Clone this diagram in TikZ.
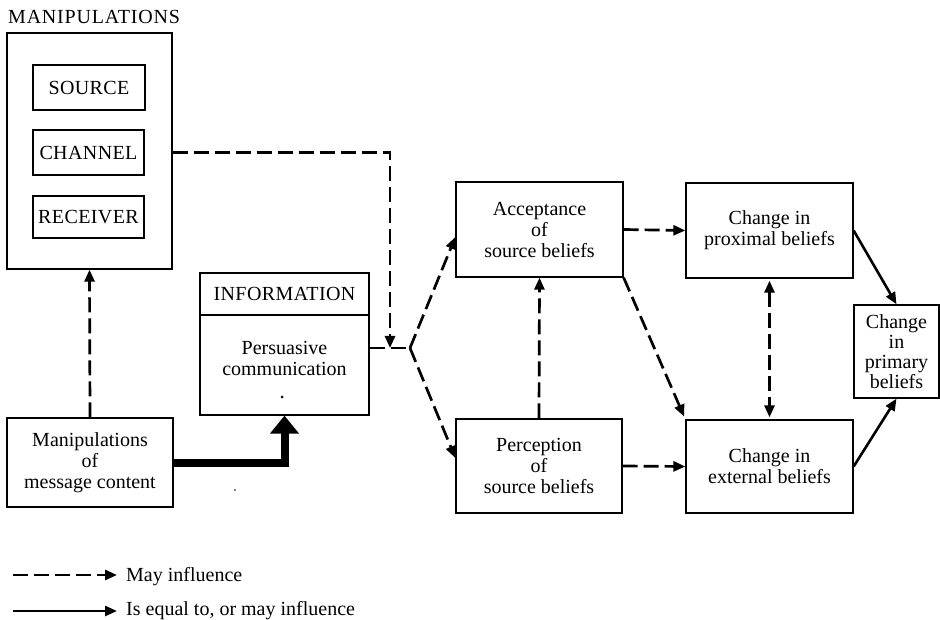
\documentclass[tikz,border=0pt]{standalone}
\usepackage{fontspec}
\setmainfont{Liberation Serif}
\usetikzlibrary{arrows.meta,calc}
\begin{document}
\begin{tikzpicture}[x=1pt,y=-1pt,
  every node/.style={font=\fontsize{20}{21}\selectfont},
  box/.style={draw, line width=1.3pt, inner sep=0pt, align=center},
  caps/.style={font=\fontsize{20}{21}\selectfont\addfontfeatures{LetterSpace=2}},
  dsh/.style={line width=2.7pt, dash pattern=on 15pt off 6pt},
  tip/.style={-{Triangle[length=12pt,width=10pt]}},
  sol/.style={line width=2.6pt}
]
\useasboundingbox (0,0) rectangle (940,620);
% manipulations group
\node[box, minimum width=165pt, minimum height=236pt] (outer) at (89.5,151) {};
\node[anchor=base west, font=\fontsize{20}{21}\selectfont\addfontfeatures{LetterSpace=4}, inner sep=0pt] (mlabel) at (8,24) {MANIPULATIONS};
\node[box, caps, minimum width=112pt, minimum height=45pt] (source) at (89,87.5) {SOURCE};
\node[box, caps, minimum width=111pt, minimum height=45pt] (channel) at (88.5,152.5) {CHANNEL};
\node[box, caps, minimum width=111pt, minimum height=42pt] (receiver) at (88.5,217) {RECEIVER};
% information
\node[box, caps, minimum width=169pt, minimum height=42pt] (infohead) at (284.5,294) {INFORMATION};
\node[box, minimum width=169pt, minimum height=100pt] (infobody) at (284.5,365) {};
\node[align=center] (pc) at (284.5,358) {Persuasive\\communication};
\fill (282,397) circle (1.5pt);
\fill (235,490) circle (0.9pt);
% message content
\node[box, minimum width=166pt, minimum height=89pt] (msg) at (90,462.5) {Manipulations\\of\\message content};
% belief boxes
\node[box, minimum width=167pt, minimum height=95pt] (acc) at (539.5,229.5) {Acceptance\\of\\source beliefs};
\node[box, minimum width=166pt, minimum height=94pt] (perc) at (539,466) {Perception\\of\\source beliefs};
\node[box, minimum width=167pt, minimum height=95pt] (prox) at (769.5,230.5) {Change in\\proximal beliefs};
\node[box, minimum width=167pt, minimum height=93pt] (ext) at (769.5,466.5) {Change in\\external beliefs};
\node[box, minimum width=85pt, minimum height=93pt, font=\fontsize{20}{20}\selectfont] (prim) at (896.5,351.5) {Change\\in\\primary\\beliefs};
% connectors
\coordinate (j) at (410,348);
\coordinate (k) at (390,348);
\draw[dsh, tip] (outer.east |- channel) -| (k);
\draw[dsh] (infobody.east |- j) -- (j);
\draw[dsh, tip] (j) -- ([yshift=-7.5pt]acc.west);
\draw[dsh, tip] (j) -- ([yshift=8pt]perc.west);
\draw[dsh, tip] (perc.north) -- (acc.south);
\draw[dsh, tip] (acc.east) -- (prox.west);
\draw[dsh, tip] (perc.east) -- (ext.west);
\draw[dsh, tip, shorten >=3pt] (acc.south east) -- (ext.north west);
\draw[dsh, {Triangle[length=12pt,width=10pt]}-{Triangle[length=12pt,width=10pt]}, shorten >=2pt, shorten <=2pt] (prox.south) -- (ext.north);
\draw[sol, tip] (prox.east) -- (prim.north);
\draw[sol, tip] (ext.east) -- (prim.south);
\draw[dsh, tip] (msg.north) -- (outer.south);
\draw[line width=8pt, -{Triangle[length=18pt,width=28pt]}] (msg.east) -| (infobody.south);
% legend
\coordinate (la) at (13,575);
\coordinate (lb) at (117,575);
\draw[dsh, tip] (la) -- (lb);
\node[anchor=base west, inner sep=0pt] (t1) at (126,581) {May influence};
\coordinate (lc) at (13,611);
\coordinate (ld) at (117,611);
\draw[sol, tip] (lc) -- (ld);
\node[anchor=base west, inner sep=0pt] (t2) at (126,615) {Is equal to, or may influence};
\end{tikzpicture}
\end{document}
